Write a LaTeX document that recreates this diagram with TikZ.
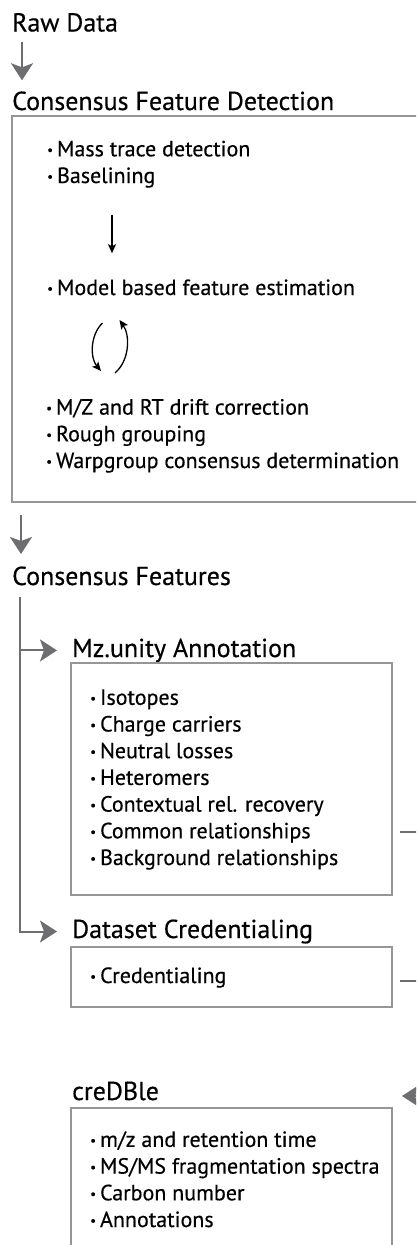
\documentclass[tikz,border=0pt]{standalone}
\usepackage{fontspec}
\setmainfont{PT Sans}[FakeBold=0.4]
\usetikzlibrary{positioning,arrows.meta}

\definecolor{arrowgray}{RGB}{110,110,112}
\definecolor{boxgray}{RGB}{150,150,150}
\newcommand{\bul}{\raisebox{2pt}{\fontsize{13}{13}\selectfont•}\hspace{4pt}}

\begin{document}
\begin{tikzpicture}[x=1pt,y=-1pt,
    head/.style={anchor=base west,inner sep=0pt,font=\fontsize{26}{30}\selectfont},
    itemlist/.style={anchor=base west,inner sep=0pt,align=left,font=\fontsize{22}{26.7}\selectfont},
    framebox/.style={draw=boxgray,line width=1.6pt,anchor=north west,inner sep=0pt,outer sep=0pt},
    flow/.style={draw=arrowgray,line width=2pt,-{Stealth[length=17pt,width=22pt,inset=4pt]}},
    link/.style={draw=arrowgray,line width=2pt},
    thinarrow/.style={draw=black,line width=1.3pt,-{Stealth[length=9pt,width=8pt,inset=2pt]}}]
    \useasboundingbox (0,0) rectangle (416,1245);
    \clip (0,0) rectangle (416,1245);

    % feature detection
    \node[head] (raw) at (12,31.5) {Raw Data};
    \node[head] (cfd) at (12,110) {Consensus Feature Detection};
    \node[framebox,minimum width=420pt,minimum height=386pt] (cfdbox) at (12,116) {};
    \node[itemlist] (trace) at (47,183) {\bul Mass trace detection\\\bul Baselining};
    \node[itemlist] (model) at (47,295) {\bul Model based feature estimation};
    \node[itemlist] (drift) at (46,468) {\bul M/Z and RT drift correction\\\bul Rough grouping\\\bul Warpgroup consensus determination};
    \draw[flow] ([shift={(10,10)}]raw.base west) -- ([shift={(10,-11)}]cfd.north west);
    \draw[thinarrow] ([shift={(65,27)}]trace.south west) -- ([shift={(65,-26)}]model.north west);
    \draw[thinarrow] (102.5,323) .. controls (90,335) and (90,358) .. (101,371);
    \draw[thinarrow] (115,373) .. controls (130,360) and (130,335) .. (119.5,320);

    % consensus features
    \node[head] (cf) at (12,585) {Consensus Features};
    \draw[flow] ([shift={(9,13)}]cfdbox.south west) -- ([shift={(9,-31)}]cf.base west);
    \coordinate (trunk) at (20,597);

    % annotation
    \node[head] (mz) at (72,657) {Mz.unity Annotation};
    \node[framebox,minimum width=321pt,minimum height=232pt] (mzbox) at (71,663) {};
    \node[itemlist] (mzlist) at (90,865) {\bul Isotopes\\\bul Charge carriers\\\bul Neutral losses\\\bul Heteromers\\\bul Contextual rel. recovery\\\bul Common relationships\\\bul Background relationships};

    \node[head] (dc) at (72,938) {Dataset Credentialing};
    \node[framebox,minimum width=321pt,minimum height=60pt] (dcbox) at (71,947) {};
    \node[itemlist] (dclist) at (90,983) {\bul Credentialing};

    \draw[flow] (trunk) |- ([xshift=-15pt]dc.west);
    \draw[flow] (trunk |- mz.west) -- ([xshift=-15pt]mz.west);
    \draw[link] ([shift={(8,53)}]mzbox.east) -- ++(30,0);
    \draw[link] ([shift={(8,4)}]dcbox.east) -- ++(30,0);

    % database
    \node[head] (cred) at (72,1100) {creDBle};
    \node[framebox,minimum width=321pt,minimum height=200pt] (credbox) at (71,1108) {};
    \node[itemlist] (credlist) at (90,1227) {\bul m/z and retention time\\\bul MS/MS fragmentation spectra\\\bul Carbon number\\\bul Annotations};
    \draw[flow] ([shift={(40,-12)}]credbox.north east) -- ([shift={(10,-12)}]credbox.north east);
\end{tikzpicture}
\end{document}
